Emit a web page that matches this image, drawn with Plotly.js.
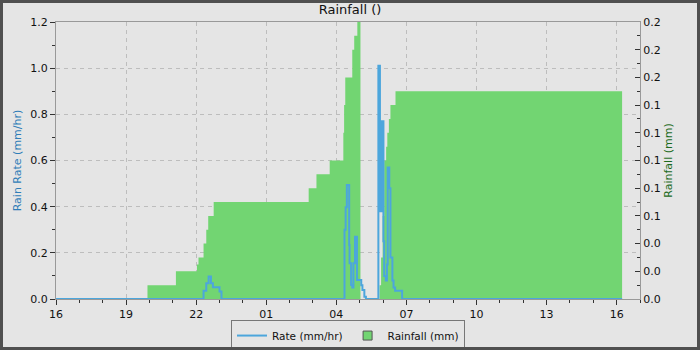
<!DOCTYPE html>
<html>
<head>
<meta charset="utf-8">
<script src="https://cdn.plot.ly/plotly-3.0.1.min.js"></script>
<style>
html,body{margin:0;padding:0;background:#e5e5e5;}
#wrap{width:700px;height:350px;box-sizing:border-box;border:3px solid #505050;background:#e5e5e5;}
#chart{width:694px;height:344px;}
</style>
</head>
<body>
<div id="wrap"><div id="chart"></div></div>
<script>
// Rain rate (mm/hr), step data
const rateTimes = [
  '2024-06-15 16:00','2024-06-15 22:19','2024-06-15 22:26','2024-06-15 22:32','2024-06-15 22:38',
  '2024-06-15 22:43','2024-06-15 23:00','2024-06-15 23:05',
  '2024-06-16 04:21','2024-06-16 04:24','2024-06-16 04:27','2024-06-16 04:33','2024-06-16 04:34',
  '2024-06-16 04:38','2024-06-16 04:41','2024-06-16 04:44','2024-06-16 04:48','2024-06-16 04:53',
  '2024-06-16 05:04','2024-06-16 05:07','2024-06-16 05:12','2024-06-16 05:16',
  '2024-06-16 05:48','2024-06-16 05:52','2024-06-16 05:56','2024-06-16 06:01','2024-06-16 06:03',
  '2024-06-16 06:07','2024-06-16 06:10','2024-06-16 06:12','2024-06-16 06:16','2024-06-16 06:19',
  '2024-06-16 06:24','2024-06-16 06:27','2024-06-16 06:31','2024-06-16 06:49','2024-06-16 16:14'
];
const rateValues = [
  0, 0.036, 0.068, 0.097, 0.068,
  0.051, 0.032, 0,
  0.30, 0.397, 0.494, 0.234, 0.155,
  0.061, 0.05, 0.155, 0.27, 0.082,
  0.06, 0.039, 0.01, 0,
  1.01, 0.38, 0.77, 0.25, 0.10,
  0.08, 0.15, 0.57, 0.48, 0.18,
  0.08, 0.05, 0.036, 0, 0
];
// Rainfall (mm), step data
const rainTimes = [
  '2024-06-15 19:55','2024-06-15 21:08','2024-06-15 22:02','2024-06-15 22:06','2024-06-15 22:19',
  '2024-06-15 22:26','2024-06-15 22:31','2024-06-15 22:45',
  '2024-06-16 02:49','2024-06-16 03:09','2024-06-16 03:43','2024-06-16 04:18','2024-06-16 04:20',
  '2024-06-16 04:23','2024-06-16 04:41','2024-06-16 04:46','2024-06-16 04:54','2024-06-16 05:02',
  '2024-06-16 05:51','2024-06-16 05:55','2024-06-16 05:59','2024-06-16 06:03','2024-06-16 06:08',
  '2024-06-16 06:11','2024-06-16 06:15','2024-06-16 06:19','2024-06-16 06:32','2024-06-16 16:14'
];
const rainValues = [
  0.01, 0.02, 0.025, 0.03, 0.04,
  0.05, 0.06, 0.07,
  0.08, 0.09, 0.10, 0.12, 0.14,
  0.16, 0.18, 0.19, 0.20, 0,
  0.01, 0.03, 0.06, 0.10, 0.11,
  0.12, 0.13, 0.14, 0.15, 0
];
const xTickVals = ['2024-06-15 16:00','2024-06-15 19:00','2024-06-15 22:00','2024-06-16 01:00','2024-06-16 04:00','2024-06-16 07:00','2024-06-16 10:00','2024-06-16 13:00','2024-06-16 16:00'];
const xTickText = ['16','19','22','01','04','07','10','13','16'];
const rateTickVals = [0, 0.2, 0.4, 0.6, 0.8, 1.0, 1.2];
const rainTickVals = [0, 0.02, 0.04, 0.06, 0.08, 0.10, 0.12, 0.14, 0.16, 0.18, 0.20];

const FONT = 'DejaVu Sans, sans-serif';
const GREEN = '#72d572';
const BLUE = '#4ca6dc';
const GRID = '#bdbdbd';
const traces = [
  {
    x: rainTimes, y: rainValues, yaxis: 'y', type: 'scatter', mode: 'lines',
    line: {shape: 'hv', width: 0, color: GREEN},
    fill: 'tozeroy', fillcolor: GREEN, name: 'Rainfall (mm)', showlegend: false
  },
  {
    x: rateTimes, y: rateValues, yaxis: 'y2', type: 'scatter', mode: 'lines',
    line: {shape: 'hv', width: 2, color: BLUE}, name: 'Rate (mm/hr)'
  },
  {
    x: [null], y: [null], yaxis: 'y2', type: 'scatter', mode: 'markers',
    marker: {symbol: 'square', size: 9, color: GREEN, line: {color: '#555', width: 1}},
    name: 'Rainfall (mm)'
  }
];
const layout = {
  width: 694, height: 344,
  paper_bgcolor: '#e5e5e5', plot_bgcolor: '#e5e5e5',
  margin: {l: 53, r: 57, t: 19, b: 48, autoexpand: false},
  font: {family: FONT, size: 11, color: '#111'},
  title: {text: 'Rainfall ()', font: {family: FONT, size: 13, color: '#111'}, x: 0.5, xanchor: 'center', y: 0.98, yanchor: 'middle', yref: 'container'},
  showlegend: true,
  legend: {
    orientation: 'h', x: 0.5, xanchor: 'center', y: -0.076, yanchor: 'top',
    bordercolor: '#777', borderwidth: 1, bgcolor: '#e5e5e5',
    font: {family: FONT, size: 10.5, color: '#111'}, itemwidth: 30,
    tracegroupgap: 0
  },
  xaxis: {
    type: 'date', range: ['2024-06-15 16:00', '2024-06-16 17:00'],
    tickmode: 'array', tickvals: xTickVals, ticktext: xTickText,
    ticks: 'outside', ticklen: 5, tickcolor: '#333',
    minor: {ticks: 'outside', dtick: 3600000, ticklen: 3, tickcolor: '#333', showgrid: false},
    showgrid: true, gridcolor: GRID, griddash: '4px,4px', gridwidth: 1,
    showline: true, linecolor: '#999', linewidth: 1, mirror: true,
    zeroline: false, tickfont: {family: FONT, size: 11, color: '#111'}
  },
  yaxis: {
    side: 'right', range: [0, 0.2],
    tickvals: rainTickVals, tickformat: '.1f',
    ticks: 'inside', ticklen: 5, tickcolor: '#333',
    minor: {ticks: 'inside', dtick: 0.01, ticklen: 3, tickcolor: '#333', showgrid: false},
    showgrid: false, showline: true, linecolor: '#999', linewidth: 1, zeroline: false,
    title: {text: 'Rainfall (mm)', font: {family: FONT, size: 11, color: '#1c6b1c'}, standoff: 4},
    tickfont: {family: FONT, size: 11, color: '#111'}
  },
  yaxis2: {
    overlaying: 'y', side: 'left', range: [0, 1.2],
    tickvals: rateTickVals, tickformat: '.1f',
    ticks: 'outside', ticklen: 5, tickcolor: '#333',
    minor: {ticks: 'outside', dtick: 0.1, ticklen: 3, tickcolor: '#333', showgrid: false},
    showgrid: true, gridcolor: GRID, griddash: '4px,4px', gridwidth: 1,
    showline: true, linecolor: '#999', linewidth: 1, zeroline: false,
    title: {text: 'Rain Rate (mm/hr)', font: {family: FONT, size: 11, color: '#2f7db8'}, standoff: 6},
    tickfont: {family: FONT, size: 11, color: '#111'}
  }
};
Plotly.newPlot('chart', traces, layout, {displayModeBar: false, staticPlot: true});
</script>
</body>
</html>
